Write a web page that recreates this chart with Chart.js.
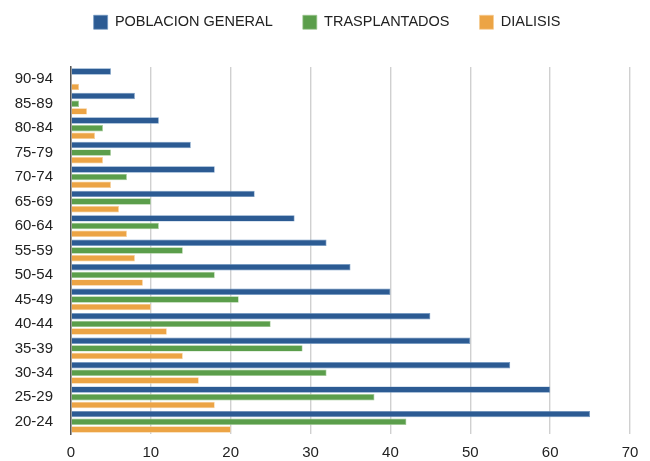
<!DOCTYPE html>
<html>
<head>
<meta charset="utf-8">
<script src="https://cdn.jsdelivr.net/npm/chart.js@4"></script>
<style>
html,body{margin:0;padding:0;background:#fff;}
#wrap{width:650px;height:461px;}
</style>
</head>
<body>
<div id="wrap"><canvas id="c" width="650" height="461"></canvas></div>
<script>
const categories = ["90-94","85-89","80-84","75-79","70-74","65-69","60-64","55-59","50-54","45-49","40-44","35-39","30-34","25-29","20-24"];
const poblacionGeneral = [5, 8, 11, 15, 18, 23, 28, 32, 35, 40, 45, 50, 55, 60, 65];
const trasplantados = [0, 1, 4, 5, 7, 10, 11, 14, 18, 21, 25, 29, 32, 38, 42];
const dialisis = [1, 2, 3, 4, 5, 6, 7, 8, 9, 10, 12, 14, 16, 18, 20];
const xTicks = [0, 10, 20, 30, 40, 50, 60, 70];

const legendTweak = {
  id: 'legendTweak',
  beforeInit(chart) {
    const orig = chart.legend.fit;
    chart.legend.fit = function () {
      orig.bind(chart.legend)();
      this.height = 82;
    };
  },
  afterLayout(chart) {
    chart.legend.left += 12;
    chart.legend.right += 12;
  }
};

new Chart(document.getElementById('c'), {
  type: 'bar',
  data: {
    labels: categories,
    datasets: [
      {label: 'POBLACION GENERAL', data: poblacionGeneral, backgroundColor: '#2c5b93', borderColor: '#7198c2', borderWidth: 0.7},
      {label: 'TRASPLANTADOS', data: trasplantados, backgroundColor: '#5b9e4b', borderColor: '#9dc790', borderWidth: 0.7},
      {label: 'DIALISIS', data: dialisis, backgroundColor: '#eca445', borderColor: '#f6cd94', borderWidth: 0.7}
    ]
  },
  plugins: [legendTweak],
  options: {
    indexAxis: 'y',
    responsive: false,
    animation: false,
    devicePixelRatio: 1,
    layout: {padding: {left: 0, right: 20, top: -15, bottom: 0}},
    datasets: {bar: {categoryPercentage: 0.94, barPercentage: 0.84}},
    plugins: {
      legend: {
        position: 'top',
        labels: {
          font: {family: 'Liberation Sans', size: 14.5},
          color: '#222',
          boxWidth: 14,
          boxHeight: 14,
          padding: 30
        }
      },
      tooltip: {enabled: false}
    },
    scales: {
      x: {
        min: 0, max: 70,
        afterBuildTicks: (ax) => { ax.ticks = xTicks.map(v => ({value: v})); },
        afterFit: (s) => { s.height = 26; },
        grid: {color: '#d0d0d0', lineWidth: 1.4, drawTicks: false},
        border: {display: false},
        ticks: {font: {family: 'Liberation Sans', size: 15}, color: '#222', padding: 10, maxRotation: 0}
      },
      y: {
        afterFit: (s) => { s.width = 71; },
        grid: {display: false, drawTicks: false},
        border: {display: true, color: '#555', width: 1.5},
        ticks: {font: {family: 'Liberation Sans', size: 15}, color: '#222', padding: 18}
      }
    }
  }
});
</script>
</body>
</html>
